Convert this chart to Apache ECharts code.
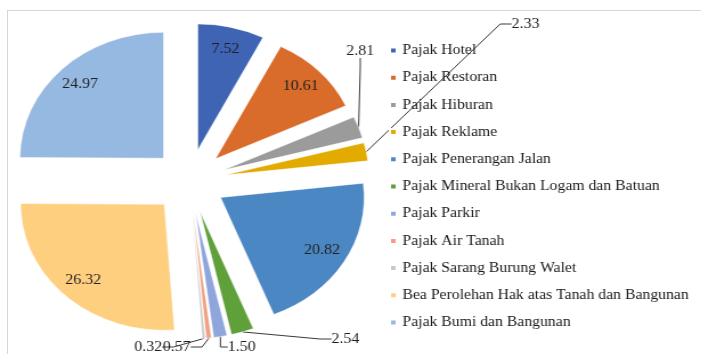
<!DOCTYPE html>
<html>
<head>
<meta charset="utf-8">
<script src="https://cdn.jsdelivr.net/npm/echarts@6/dist/echarts.min.js"></script>
<style>
  html, body { margin: 0; padding: 0; background: #fff; overflow: hidden; }
  body { width: 701px; height: 354px; position: relative; }
  /* the source picture is stretched sideways, so the chart is too */
  #chart { position: absolute; left: 0; top: 0; width: 615px; height: 354px;
           transform: scaleX(1.14); transform-origin: 0 0; }
  #frame { position: absolute; left: 7px; top: 10px; width: 720px; height: 400px;
           border: 1.5px solid #d6d6d6; pointer-events: none; }
</style>
</head>
<body>
<div id="chart"></div>
<div id="frame"></div>
<script>
const categories = [
  'Pajak Hotel',
  'Pajak Restoran',
  'Pajak Hiburan',
  'Pajak Reklame',
  'Pajak Penerangan Jalan',
  'Pajak Mineral Bukan Logam dan Batuan',
  'Pajak Parkir',
  'Pajak Air Tanah',
  'Pajak Sarang Burung Walet',
  'Bea Perolehan Hak atas Tanah dan Bangunan',
  'Pajak Bumi dan Bangunan'
];
const shares = [7.52, 10.61, 2.81, 2.33, 20.82, 2.54, 1.50, 0.57, 0.32, 26.32, 24.97];
const palette = ['#3f64b4', '#d96b2b', '#9b9b9b', '#e3aa00', '#4b87c3', '#5fa03a',
                 '#8ea6dc', '#f1a07f', '#c9c9c9', '#ffcf80', '#96b9e1'];

// where the callout numbers of the thin slices sit (chart px, before the stretch)
const calloutSpots = {
  2: [316, 51],
  3: [461, 24],
  5: [303, 339],
  6: [212, 347],
  7: [155, 347],
  8: [130, 347]
};

const font = 'Liberation Serif';
const fontSize = 14;
const center = [166, 181];
const radius = 126;
const explode = 32;
const fmt = p => p.value.toFixed(2);

const chart = echarts.init(document.getElementById('chart'));

// pulled-out centre of one slice, same shift as selectedOffset gives
const total = shares.reduce((a, b) => a + b, 0);
function shiftedCenter(i) {
  const before = shares.slice(0, i).reduce((a, b) => a + b, 0);
  const mid = (90 - (before + shares[i] / 2) / total * 360) * Math.PI / 180;
  return [center[0] + explode * Math.cos(mid), center[1] - explode * Math.sin(mid)];
}

const series = [
  {
    type: 'pie',
    center,
    radius: [0, radius],
    startAngle: 90,
    selectedMode: 'multiple',
    selectedOffset: explode,
    silent: true,
    itemStyle: { borderColor: '#fff', borderWidth: 0.5 },
    label: { show: false },
    labelLine: { show: false },
    data: categories.map((name, i) => ({
      name, value: shares[i], selected: true, itemStyle: { color: palette[i] }
    }))
  },
  {
    // numbers inside the big slices, at about 0.8 of the radius
    type: 'pie',
    center,
    radius: [radius * 0.6, radius],
    startAngle: 90,
    selectedMode: 'multiple',
    selectedOffset: explode,
    silent: true,
    itemStyle: { color: 'rgba(0,0,0,0)' },
    label: { position: 'inside', fontFamily: font, fontSize, color: '#1f1f1f', formatter: fmt },
    labelLine: { show: false },
    data: categories.map((name, i) => ({
      name, value: shares[i], selected: true, label: { show: !calloutSpots[i] }
    }))
  }
];

// one see-through copy per thin slice, sitting on the pulled-out slice, carrying its callout
Object.keys(calloutSpots).forEach(key => {
  const k = Number(key);
  series.push({
    type: 'pie',
    center: shiftedCenter(k),
    radius: [0, radius],
    startAngle: 90,
    silent: true,
    itemStyle: { color: 'rgba(0,0,0,0)' },
    label: { position: 'outside', fontFamily: font, fontSize, color: '#1f1f1f', formatter: fmt },
    labelLine: { length: 10, length2: 10, lineStyle: { color: '#3a3a3a', width: 1 } },
    labelLayout: p => p.dataIndex === k
      ? { x: calloutSpots[k][0], y: calloutSpots[k][1], align: 'center', verticalAlign: 'middle' }
      : {},
    data: categories.map((name, i) => ({
      name, value: shares[i],
      label: { show: i === k },
      labelLine: { show: i === k }
    }))
  });
});

chart.setOption({
  animation: false,
  backgroundColor: '#fff',
  legend: {
    orient: 'vertical',
    left: 341,
    top: 43.5,
    padding: 0,
    itemWidth: 6,
    itemHeight: 6,
    itemGap: 13.2,
    icon: 'rect',
    selectedMode: false,
    textStyle: { fontFamily: font, fontSize: 13.8, color: '#1a1a1a', lineHeight: 14 },
    data: categories.map((name, i) => ({ name, itemStyle: { color: palette[i] } }))
  },
  series
});
</script>
</body>
</html>
